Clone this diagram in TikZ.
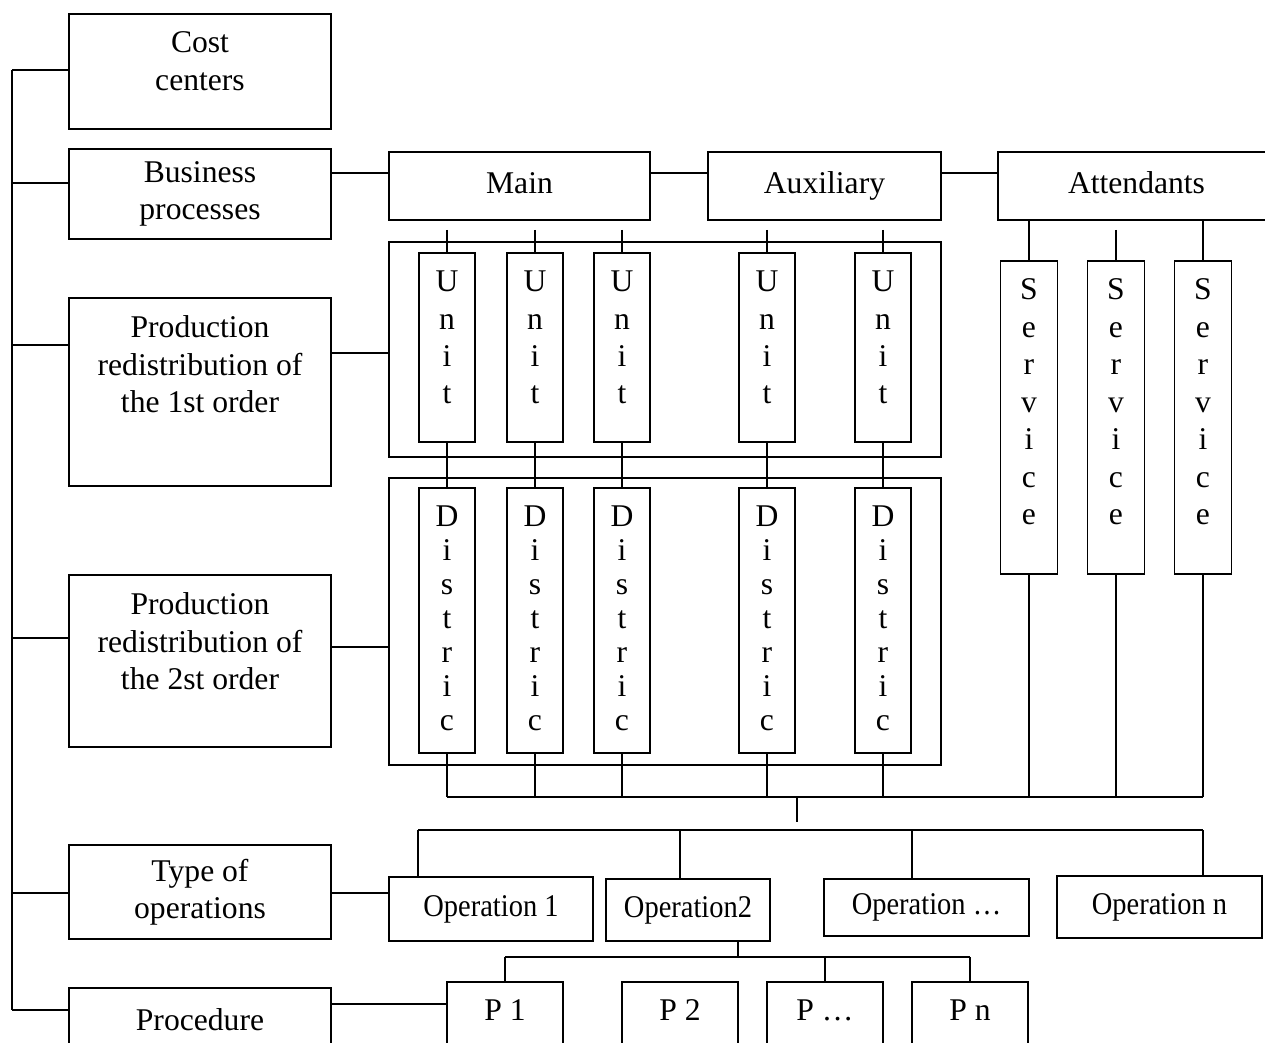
\documentclass[tikz,border=0pt]{standalone}
\usepackage{fontspec}
\setmainfont{Liberation Serif}
\newfontfamily\condfont[FakeStretch=0.9]{Liberation Serif}
\begin{document}
\begin{tikzpicture}[x=0.02cm, y=-0.02cm, line width=1pt,
  box/.style={draw, line width=1pt, inner sep=0pt, align=center, font=\fontsize{18}{21.3}\selectfont},
  onerow/.style={box, text height=12pt, text depth=4pt},
  toptext/.style={anchor=north, inner sep=0pt, align=center, yshift=-0.36cm, font=\fontsize{18}{21.3}\selectfont},
  cell/.style={box, minimum width=1.12cm},
  opbox/.style={box, font=\condfont\fontsize{18}{21.3}\selectfont}]
  \clip (0,0) rectangle (1265,1043);
  % left column
  \node[box, minimum width=5.24cm, minimum height=2.3cm] (cost) at (200,71.5) {};
  \node[toptext] at (cost.north) {Cost\\centers};
  \node[box, minimum width=5.24cm, minimum height=1.8cm] (bus) at (200,194) {Business\\processes};
  \node[box, minimum width=5.24cm, minimum height=3.76cm] (prod1) at (200,392) {};
  \node[toptext] at (prod1.north) {Production\\redistribution of\\the 1st order};
  \node[box, minimum width=5.24cm, minimum height=3.44cm] (prod2) at (200,661) {};
  \node[toptext] at (prod2.north) {Production\\redistribution of\\the 2st order};
  \node[box, minimum width=5.24cm, minimum height=1.88cm] (typeop) at (200,892) {Type of\\operations};
  \node[box, minimum width=5.24cm, minimum height=1.44cm] (proc) at (200,1024) {};
  \node[toptext, yshift=-0.06cm] at (proc.north) {Procedure};
  % spine
  \draw (12,70) -- (12,1010);
  \draw (12,70) -- (cost.west |- 0,70);
  \draw (12,183) -- (bus.west |- 0,183);
  \draw (12,345) -- (prod1.west |- 0,345);
  \draw (12,638) -- (prod2.west |- 0,638);
  \draw (12,893) -- (typeop.west |- 0,893);
  \draw (12,1010) -- (proc.west |- 0,1010);
  % business processes
  \node[onerow, minimum width=5.22cm, minimum height=1.36cm] (main) at (519.5,186) {Main};
  \node[onerow, minimum width=4.66cm, minimum height=1.36cm] (aux) at (824.5,186) {Auxiliary};
  \node[onerow, minimum width=5.54cm, minimum height=1.36cm] (att) at (1136.5,186) {Attendants};
  \draw (bus.east |- 0,173) -- (main.west |- 0,173);
  \draw (main.east |- 0,173) -- (aux.west |- 0,173);
  \draw (aux.east |- 0,173) -- (att.west |- 0,173);
  % units and districts
  \node[box, minimum width=11.04cm, minimum height=4.3cm] (ucont) at (665,349.5) {};
  \node[box, minimum width=11.04cm, minimum height=5.74cm] (dcont) at (665,621.5) {};
  \draw (prod1.east |- 0,353) -- (ucont.west |- 0,353);
  \draw (prod2.east |- 0,647) -- (dcont.west |- 0,647);
  \foreach \n/\x in {1/447,2/535,3/622,4/767,5/883}
  {
    \node[cell, minimum height=3.78cm] (u\n) at (\x,347.5) {};
    \node[toptext] at (u\n.north) {U\\n\\i\\t};
    \node[cell, minimum height=5.3cm] (d\n) at (\x,620.5) {};
    \node[toptext, font=\fontsize{18}{19.3}\selectfont] at (d\n.north) {D\\i\\s\\t\\r\\i\\c};
    \draw (u\n.north |- 0,230) -- (u\n.north);
    \draw (u\n.south) -- (d\n.north);
    \draw (d\n.south) -- (d\n.south |- 0,797);
  }
  % services
  \foreach \n/\x in {1/1029,2/1116,3/1203}
  {
    \node[cell, minimum width=1.14cm, minimum height=6.26cm] (s\n) at (\x,417.5) {};
    \node[toptext] at (s\n.north) {S\\e\\r\\v\\i\\c\\e};
    \draw (s\n.south) -- (s\n.south |- 0,797);
  }
  \draw (att.south -| s1.north) -- (s1.north);
  \draw (s2.north |- 0,230) -- (s2.north);
  \draw (att.south -| s3.north) -- (s3.north);
  \draw (d1.south |- 0,797) -- (s3.south |- 0,797);
  \coordinate (hub) at (797,797);
  \draw (hub) -- (797,822);
  % operations
  \node[opbox, minimum width=4.08cm, minimum height=1.28cm] (op1) at (491,909) {Operation 1};
  \node[opbox, minimum width=3.28cm, minimum height=1.24cm] (op2) at (688,910) {Operation2};
  \node[opbox, minimum width=4.1cm, minimum height=1.14cm] (op3) at (926.5,907.5) {Operation \dots};
  \node[opbox, minimum width=4.1cm, minimum height=1.24cm] (opn) at (1159.5,907) {Operation n};
  \draw (418,830) -- (1203,830);
  \draw (418,830) -- (op1.north -| 418,0);
  \draw (680,830) -- (op2.north -| 680,0);
  \draw (912,830) -- (op3.north -| 912,0);
  \draw (1203,830) -- (opn.north -| 1203,0);
  \draw (typeop.east |- 0,893) -- (op1.west |- 0,893);
  % procedures
  \foreach \n/\x/\t in {1/505/P 1,2/680/P 2,3/825/P \dots,n/970/P n}
  {
    \node[box, minimum width=2.32cm, minimum height=1.56cm] (p\n) at (\x,1021) {};
    \node[toptext] at (p\n.north) {\t};
  }
  \draw (op2.south -| 738,0) -- (738,957);
  \draw (p1.north |- 0,957) -- (pn.north |- 0,957);
  \draw (p1.north |- 0,957) -- (p1.north);
  \draw (p3.north |- 0,957) -- (p3.north);
  \draw (pn.north |- 0,957) -- (pn.north);
  \draw (proc.east |- 0,1004) -- (p1.west |- 0,1004);
\end{tikzpicture}
\end{document}
